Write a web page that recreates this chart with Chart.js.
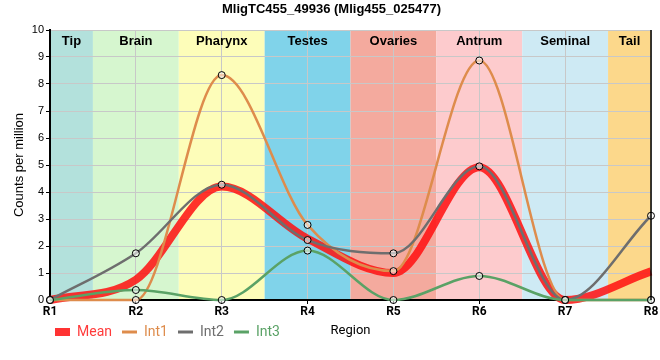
<!DOCTYPE html>
<html><head><meta charset="utf-8">
<script src="https://cdn.jsdelivr.net/npm/chart.js@4"></script>
<style>html,body{margin:0;padding:0;background:#fff}#wrap{width:660px;height:360px;position:relative}</style>
</head><body><div id="wrap"><canvas id="c"></canvas></div>
<script>
const regions = ['R1','R2','R3','R4','R5','R6','R7','R8'];
const meanVals = [0, 0.75, 4.2, 2.27, 1.0, 4.92, 0, 1.06];
const int1Vals = [0, 0, 8.33, 2.78, 1.07, 8.87, 0, 0];
const int2Vals = [0, 1.73, 4.27, 2.22, 1.73, 4.95, 0, 3.12];
const int3Vals = [0, 0.37, 0, 1.83, 0, 0.89, 0, 0];
const yTicks = [0,1,2,3,4,5,6,7,8,9,10];
const bandNames = ['Tip','Brain','Pharynx','Testes','Ovaries','Antrum','Seminal','Tail'];
const bandColors = ['#b3e1dc','#d6f6cf','#fdfdb9','#80d3ea','#f4aa9e','#fdcbcd','#ceeaf4','#fcd88b'];

const bandPlugin = {
  id: 'bands',
  afterLayout(chart) {
    const lg = chart.legend;
    if (lg) { lg.left += 33; lg.right += 33; }
  },
  beforeDraw(chart) {
    const {ctx, chartArea: a, scales: {x}} = chart;
    ctx.save();
    bandNames.forEach((n, i) => {
      const l = Math.max(a.left, x.getPixelForValue(i - 0.5));
      const r = Math.min(a.right, x.getPixelForValue(i + 0.5));
      ctx.fillStyle = bandColors[i];
      ctx.fillRect(l, a.top, r - l, a.bottom - a.top);
    });
    ctx.restore();
  },
  afterDraw(chart) {
    const {ctx, chartArea: a, scales: {x}} = chart;
    ctx.save();
    ctx.font = 'bold 13px "Liberation Sans", Arial, sans-serif';
    ctx.fillStyle = '#000';
    ctx.textAlign = 'center';
    ctx.textBaseline = 'middle';
    bandNames.forEach((n, i) => {
      const l = Math.max(a.left, x.getPixelForValue(i - 0.5));
      const r = Math.min(a.right, x.getPixelForValue(i + 0.5));
      ctx.fillText(n, (l + r) / 2, a.top + 11);
    });
    ctx.strokeStyle = '#000';
    ctx.lineWidth = 1.5;
    ctx.beginPath();
    ctx.moveTo(a.right, a.top);
    ctx.lineTo(a.right, a.bottom);
    ctx.stroke();
    ctx.font = '13px Roboto, sans-serif';
    ctx.fillStyle = '#000';
    ctx.fillText('Region', (a.left + a.right) / 2, 331);
    ctx.restore();
  }
};

const pointOpts = {pointRadius: 3.5, pointBackgroundColor: 'rgba(255,255,255,0.55)', pointBorderColor: '#000', pointBorderWidth: 1, pointHoverRadius: 3.5};

new Chart(document.getElementById('c'), {
  type: 'line',
  data: {
    labels: regions,
    datasets: [
      {label: 'Mean', data: meanVals, borderColor: 'rgba(255,15,15,0.85)', backgroundColor: 'rgba(255,15,15,0.85)', borderWidth: 8, pointRadius: 0, cubicInterpolationMode: 'monotone', order: 5, fill: false},
      Object.assign({label: 'Int1', data: int1Vals, borderColor: '#de8c4c', backgroundColor: '#de8c4c', borderWidth: 2.5, cubicInterpolationMode: 'monotone', order: 3, fill: false}, pointOpts),
      Object.assign({label: 'Int2', data: int2Vals, borderColor: '#6e6e6e', backgroundColor: '#6e6e6e', borderWidth: 2.5, cubicInterpolationMode: 'monotone', order: 2, fill: false}, pointOpts),
      Object.assign({label: 'Int3', data: int3Vals, borderColor: '#5aa266', backgroundColor: '#5aa266', borderWidth: 2.5, cubicInterpolationMode: 'monotone', order: 1, fill: false}, pointOpts)
    ]
  },
  options: {
    responsive: true,
    maintainAspectRatio: false,
    animation: false,
    clip: false,
    layout: {padding: {left: 12, right: 9, top: 0, bottom: 11}},
    plugins: {
      tooltip: {enabled: false},
      title: {display: true, text: 'MligTC455_49936 (Mlig455_025477)', color: '#000',
        font: {family: '"Liberation Sans", Arial, sans-serif', size: 13, weight: 'bold'}, padding: {top: 2, bottom: 12.4}},
      legend: {
        position: 'bottom', align: 'start',
        labels: {
          usePointStyle: true, pointStyleWidth: 15, boxHeight: 8, padding: 10,
          font: {family: 'Roboto, sans-serif', size: 14},
          generateLabels: (chart) => chart.data.datasets.map((ds, i) => ({
            text: ds.label,
            fillStyle: ds.borderColor,
            strokeStyle: ds.borderColor,
            lineWidth: i === 0 ? 0 : 3,
            pointStyle: i === 0 ? 'rect' : 'line',
            fontColor: i === 0 ? '#ff3b3b' : ds.borderColor,
            hidden: !chart.isDatasetVisible(i),
            datasetIndex: i
          }))
        }
      }
    },
    scales: {
      x: {
        type: 'category',
        offset: false,
        grid: {color: '#c8c8c8', lineWidth: 1, tickColor: '#000', tickLength: 4, drawOnChartArea: true},
        border: {color: '#000', width: 2},
        ticks: {color: '#000', font: {family: 'Roboto, sans-serif', size: 12, weight: 'bold'}, padding: 1, maxRotation: 0, autoSkip: false},
        afterFit(s) { s.height = 15; }
      },
      y: {
        min: 0, max: 10,
        afterBuildTicks(s) { s.ticks = yTicks.map(v => ({value: v})); },
        grid: {color: '#c8c8c8', lineWidth: 1, tickColor: '#000', tickLength: 4},
        border: {color: '#000', width: 2},
        ticks: {color: '#000', font: {family: '"Liberation Sans", Arial, sans-serif', size: 11}, padding: 2},
        title: {display: true, text: 'Counts per million', color: '#000', font: {family: '"Liberation Sans", Arial, sans-serif', size: 13}, padding: {top: 0, bottom: 4}},
        afterFit(s) { s.width = 38; }
      }
    }
  },
  plugins: [bandPlugin]
});
</script>
</body></html>
